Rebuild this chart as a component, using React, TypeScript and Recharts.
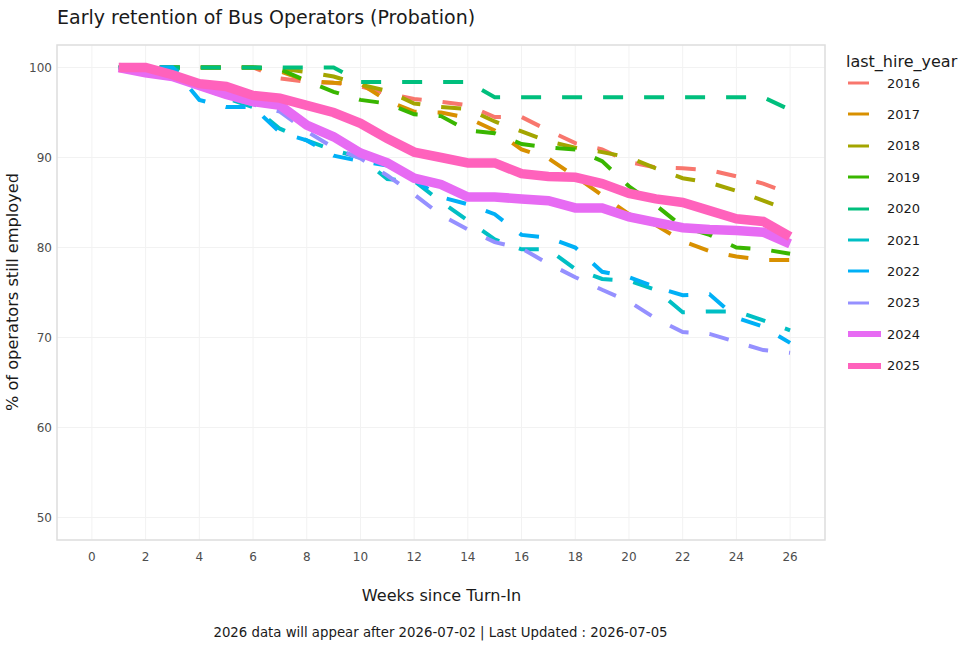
import React from 'react';
import { LineChart, Line, XAxis, YAxis, CartesianGrid, ReferenceArea } from 'recharts';

// weeks since turn-in
const weeks = [1, 2, 3, 4, 5, 6, 7, 8, 9, 10, 11, 12, 13, 14, 15, 16, 17, 18, 19, 20, 21, 22, 23, 24, 25, 26];

// % of operators still employed, one list per hire year
const y2016 = [100, 100, 100, 100, 100, 100, 98.8, 98.4, 98.3, 97.9, 97.1, 96.5, 96.2, 95.8, 94.5, 94.5, 93.0, 91.6, 90.9, 89.5, 88.9, 88.8, 88.6, 87.9, 87.1, 86.0];
const y2017 = [100, 100, 100, 100, 100, 100, 99.6, 98.5, 98.3, 98.2, 96.3, 95.1, 95.0, 94.4, 93.0, 90.9, 89.9, 87.9, 85.8, 83.7, 82.5, 80.7, 79.6, 79.0, 78.6, 78.6];
const y2018 = [100, 100, 100, 100, 100, 100, 99.9, 99.5, 99.0, 98.1, 97.4, 96.0, 95.6, 95.4, 94.0, 92.9, 91.8, 91.1, 90.6, 90.0, 88.8, 87.7, 87.2, 86.3, 85.2, 84.1];
const y2019 = [100, 100, 100, 100, 100, 100, 99.8, 98.5, 97.3, 96.4, 96.0, 94.8, 94.6, 93.0, 92.7, 91.5, 91.1, 90.9, 89.6, 86.8, 84.7, 82.3, 81.4, 80.0, 79.8, 79.3];
const y2020 = [100, 100, 100, 100, 100, 100, 100, 100, 100, 98.4, 98.4, 98.4, 98.4, 98.4, 96.7, 96.7, 96.7, 96.7, 96.7, 96.7, 96.7, 96.7, 96.7, 96.7, 96.7, 95.3];
const y2021 = [100, 100, 100, 98.0, 96.6, 95.6, 93.2, 91.9, 90.8, 90.0, 87.6, 87.4, 85.1, 83.0, 80.9, 79.8, 79.8, 77.6, 76.5, 76.3, 75.3, 72.8, 72.9, 72.9, 71.9, 70.8];
const y2022 = [100, 100, 100, 96.4, 95.6, 95.6, 92.8, 91.9, 90.2, 89.6, 89.1, 87.5, 85.6, 84.8, 83.7, 81.4, 81.1, 80.0, 77.3, 76.7, 75.6, 74.7, 74.8, 72.2, 71.2, 69.4];
const y2023 = [100, 99.4, 98.8, 97.8, 96.7, 95.9, 95.1, 92.9, 91.1, 89.9, 88.0, 85.9, 83.6, 82.0, 80.6, 79.9, 78.2, 76.7, 75.3, 74.0, 72.1, 70.6, 70.4, 69.5, 68.6, 68.3];
const y2024 = [100, 99.4, 99.0, 98.0, 97.0, 96.2, 95.8, 93.6, 92.3, 90.5, 89.4, 87.7, 87.0, 85.6, 85.6, 85.4, 85.2, 84.4, 84.4, 83.4, 82.8, 82.2, 82.0, 81.9, 81.7, 80.4];
const y2025 = [100, 100, 99.2, 98.2, 97.9, 96.9, 96.6, 95.8, 95.0, 93.8, 92.1, 90.6, 90.0, 89.4, 89.4, 88.2, 87.9, 87.8, 87.1, 86.0, 85.4, 85.0, 84.1, 83.2, 82.9, 81.2];

const years = ['2016', '2017', '2018', '2019', '2020', '2021', '2022', '2023', '2024', '2025'];
const values = [y2016, y2017, y2018, y2019, y2020, y2021, y2022, y2023, y2024, y2025];
const colors = ['#F8766D', '#D89000', '#A3A500', '#39B600', '#00BF7D', '#00BFC4', '#00B0F6', '#9590FF', '#E76BF3', '#FF62BC'];
const solidYears = ['2024', '2025'];

const xTicks = [0, 2, 4, 6, 8, 10, 12, 14, 16, 18, 20, 22, 24, 26];
const yTicks = [50, 60, 70, 80, 90, 100];

const data = weeks.map((week, i) => {
  const row: Record<string, number> = { week };
  years.forEach((yr, j) => {
    row[yr] = values[j][i];
  });
  return row;
});

const FONT = '"DejaVu Sans", Verdana, sans-serif';

const App = () => {
  return (
    <div style={{ position: 'absolute', left: 0, top: 0, width: 975, height: 650, background: '#fff', fontFamily: FONT }}>
      <div style={{ position: 'absolute', left: 57, top: 17, fontSize: 19, color: '#1a1a1a', whiteSpace: 'nowrap', transform: 'translateY(-50%)' }}>
        Early retention of Bus Operators (Probation)
      </div>

      <LineChart width={975} height={650} data={data} margin={{ top: 45, right: 150, bottom: 0, left: 0 }}>
        <CartesianGrid stroke="#f2f2f2" strokeWidth={1} />
        <ReferenceArea x1={-1.3} x2={27.3} y1={47.5} y2={102.5} fill="none" stroke="#dedede" strokeWidth={1.5} ifOverflow="visible" />
        <XAxis
          dataKey="week"
          type="number"
          domain={[-1.3, 27.3]}
          ticks={xTicks}
          allowDataOverflow
          height={110}
          axisLine={false}
          tickLine={false}
          tickSize={0}
          tickMargin={12}
          tick={{ fill: '#4d4d4d', fontSize: 12, fontFamily: FONT }}
        />
        <YAxis
          type="number"
          domain={[47.5, 102.5]}
          ticks={yTicks}
          allowDataOverflow
          width={57}
          axisLine={false}
          tickLine={false}
          tickSize={0}
          tickMargin={5}
          tick={{ fill: '#4d4d4d', fontSize: 12, fontFamily: FONT }}
        />
        {years.map((yr, j) => {
          const solid = solidYears.includes(yr);
          return (
            <Line
              key={yr}
              type="linear"
              dataKey={yr}
              stroke={colors[j]}
              strokeWidth={solid ? 9.5 : 4}
              strokeDasharray={solid ? undefined : '20 21'}
              dot={false}
              activeDot={false}
              isAnimationActive={false}
            />
          );
        })}
      </LineChart>

      <div
        style={{
          position: 'absolute', left: 12, top: 292, fontSize: 16.2, color: '#1a1a1a', whiteSpace: 'nowrap',
          transform: 'translate(-50%, -50%) rotate(-90deg)',
        }}
      >
        % of operators still employed
      </div>
      <div style={{ position: 'absolute', left: 441.5, top: 595, fontSize: 16.1, color: '#1a1a1a', whiteSpace: 'nowrap', transform: 'translate(-50%, -50%)' }}>
        Weeks since Turn-In
      </div>
      <div style={{ position: 'absolute', left: 440.5, top: 632, fontSize: 13.3, color: '#1a1a1a', whiteSpace: 'nowrap', transform: 'translate(-50%, -50%)' }}>
        2026 data will appear after 2026-07-02 | Last Updated : 2026-07-05
      </div>

      <div style={{ position: 'absolute', left: 846, top: 52, fontSize: 16, color: '#1a1a1a', whiteSpace: 'nowrap' }}>
        last_hire_year
      </div>
      {years.map((yr, j) => {
        const solid = solidYears.includes(yr);
        const cy = 83 + j * 31.4;
        return (
          <div key={yr} style={{ position: 'absolute', left: 846, top: cy - 10, height: 20, display: 'flex', alignItems: 'center' }}>
            <svg width={38} height={20}>
              <line x1={2} x2={solid ? 35 : 23} y1={10} y2={10} stroke={colors[j]} strokeWidth={solid ? 6 : 3} />
            </svg>
            <span style={{ position: 'absolute', left: 41, fontSize: 13, color: '#1a1a1a' }}>{yr}</span>
          </div>
        );
      })}
    </div>
  );
};

export default App;
